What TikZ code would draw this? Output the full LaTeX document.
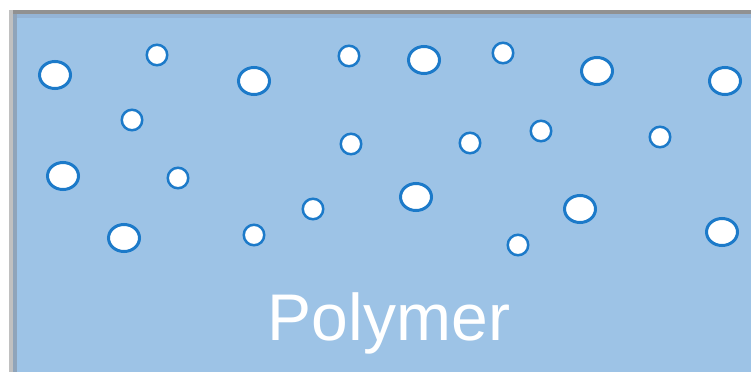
\documentclass[tikz,border=0pt]{standalone}
\usepackage{fontspec}
\setmainfont{Liberation Sans}
\usetikzlibrary{shapes.geometric}
\definecolor{polyfill}{RGB}{157,195,230}
\definecolor{ringblue}{RGB}{28,122,201}
\definecolor{topgrey}{RGB}{145,145,145}
\definecolor{leftgrey}{RGB}{192,192,192}
\definecolor{leftdark}{RGB}{143,164,186}
\definecolor{topblend}{RGB}{148,180,214}
\begin{document}
\begin{tikzpicture}[x=1pt,y=-1pt,
  bigpore/.style={draw=ringblue,fill=white,line width=3pt,ellipse,inner sep=0pt,minimum width=31pt,minimum height=27pt},
  smallpore/.style={draw=ringblue,fill=white,line width=2.5pt,circle,inner sep=0pt,minimum size=20.5pt},
  label/.style={text=white,font=\fontsize{66}{70}\selectfont,anchor=base}]
\useasboundingbox (0,0) rectangle (751,372);
\fill[white] (0,0) rectangle (751,372);
% frame
\fill[leftgrey] (9,10) rectangle (13,372);
\fill[topgrey] (13,10) rectangle (751,14);
\fill[leftdark] (13,14) rectangle (17,372);
\fill[topblend] (17,14) rectangle (751,18);
\fill[polyfill] (17,18) rectangle (751,372);
% large pores
\node[bigpore] (b1) at (55,75) {};
\node[bigpore] (b2) at (254,81) {};
\node[bigpore] (b3) at (424,60) {};
\node[bigpore] (b4) at (597,71) {};
\node[bigpore] (b5) at (725,81) {};
\node[bigpore] (b6) at (63,176) {};
\node[bigpore] (b7) at (124,238) {};
\node[bigpore] (b8) at (416,197) {};
\node[bigpore] (b9) at (580,209) {};
\node[bigpore] (b10) at (722,232) {};
% small pores
\node[smallpore] (s1) at (157,55) {};
\node[smallpore] (s2) at (349,56) {};
\node[smallpore] (s3) at (503,53) {};
\node[smallpore] (s4) at (132,120) {};
\node[smallpore] (s5) at (351,144) {};
\node[smallpore] (s6) at (470,143) {};
\node[smallpore] (s7) at (541,131) {};
\node[smallpore] (s8) at (660,137) {};
\node[smallpore] (s9) at (178,178) {};
\node[smallpore] (s10) at (313,209) {};
\node[smallpore] (s11) at (254,235) {};
\node[smallpore] (s12) at (518,245) {};
% label
\node[label] (lbl) at (389,340) {Polymer};
\end{tikzpicture}
\end{document}
